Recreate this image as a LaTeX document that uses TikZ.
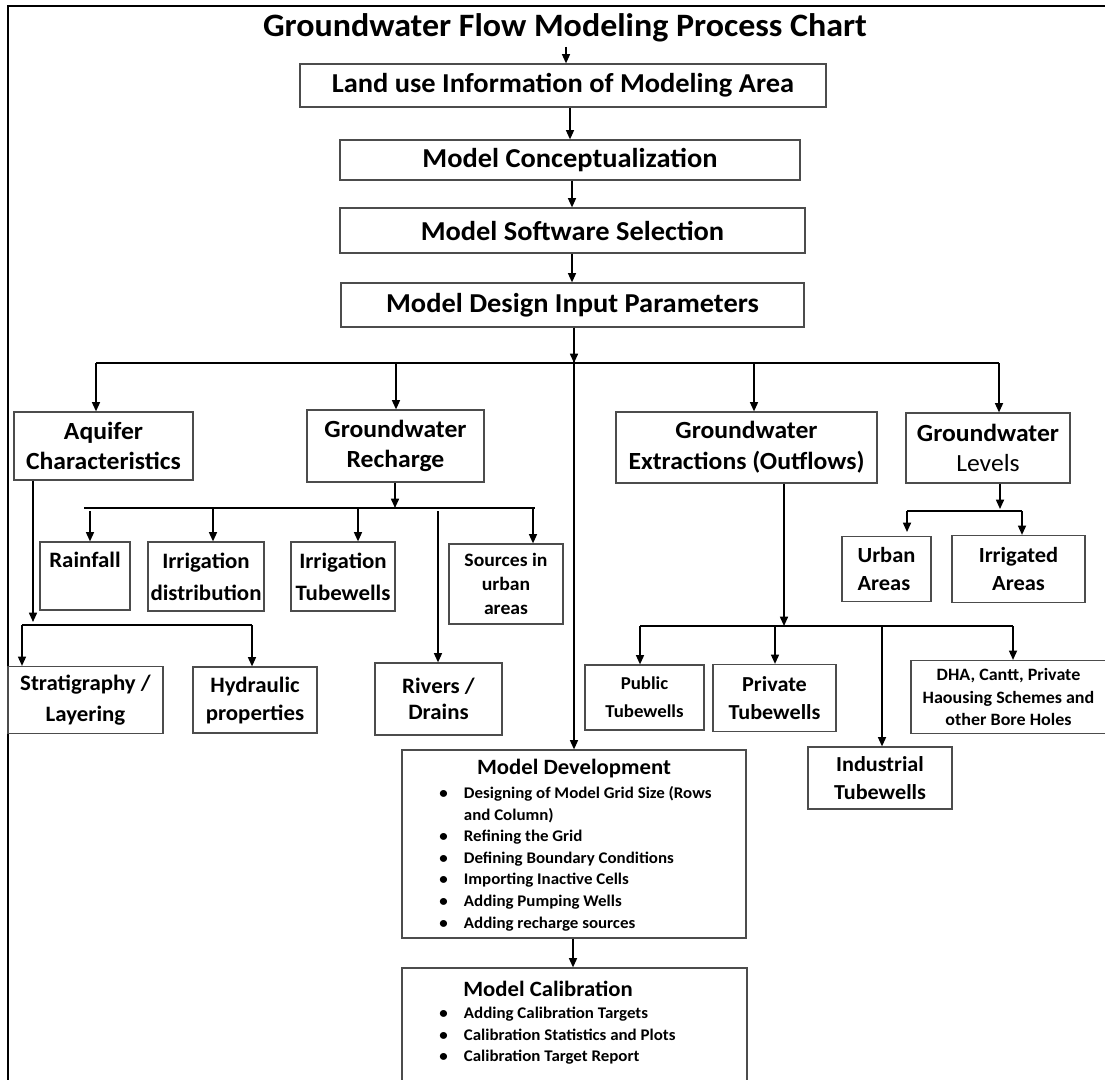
\documentclass[tikz,border=0pt]{standalone}
\usepackage{fontspec}
\setmainfont{Carlito}[FakeStretch=1.04]
\usepackage{tikz}
\usetikzlibrary{arrows.meta, positioning, calc}

\newcommand{\fs}[2]{\fontsize{#1}{#2}\selectfont\bfseries}

\begin{document}
\begin{tikzpicture}[
    x=0.75pt, y=-0.75pt,
    box/.style={draw=black!70, line width=0.9pt, inner sep=0pt, align=center},
    bw/.style 2 args={minimum width=#1*0.75pt, minimum height=#2*0.75pt},
    arr/.style={line width=1.2pt, -{Triangle[length=7pt, width=6pt]}},
    bus/.style={line width=0.9pt},
]
    \useasboundingbox (0,0) rectangle (1105,1079);
    % frame
    \draw[line width=1.6pt] (8,1085) -- (8,6) -- (1110,6);

    % main column
    \node[font=\fs{24.5}{28}] (title) at (565,28) {Groundwater Flow Modeling Process Chart};
    \node[box, bw={526}{43}, font=\fs{20.5}{24}] (land) at (563,85.5) {Land use Information of Modeling Area};
    \node[box, bw={460}{40}, font=\fs{20.5}{24}] (concept) at (570,160) {Model Conceptualization};
    \node[box, bw={465}{45}, font=\fs{20.5}{24}] (soft) at (572.5,230.5) {Model Software Selection};
    \node[box, bw={463}{44}, font=\fs{20.5}{24}] (design) at (572.5,305) {Model Design Input Parameters};

    % second level
    \node[box, bw={179}{68}, font=\fs{18.5}{23}] (aquifer) at (103.5,446) {Aquifer\\Characteristics};
    \node[box, bw={177}{72}, font=\fs{18.5}{23}] (recharge) at (395.5,446) {Groundwater\\Recharge};
    \node[box, bw={261}{71}, font=\fs{18.5}{23}] (extract) at (746.5,447.5) {Groundwater\\Extractions (Outflows)};
    \node[box, bw={164}{70}, font=\fs{18.5}{23}] (levels) at (988,448) {Groundwater\\{\mdseries Levels}};

    % recharge sources
    \node[box, bw={90}{68}, font=\fs{16.5}{24}] (rain) at (85,576) {Rainfall\\\phantom{Rainfall}};
    \node[box, bw={116}{69}, font=\fs{16.5}{24}] (irrdist) at (206,576.5) {Irrigation\\distribution};
    \node[box, bw={104}{69}, font=\fs{16.5}{24}] (irrtube) at (343,576.5) {Irrigation\\Tubewells};
    \node[box, bw={114}{80}, font=\fs{14.2}{18}] (sources) at (506,584) {Sources in\\urban\\areas};
    \node[box, bw={127}{72}, font=\fs{16.5}{20}] (rivers) at (438.5,699) {Rivers /\\Drains};

    % aquifer items
    \node[box, bw={155}{67}, font=\fs{16.5}{23}] (strat) at (85.5,700) {Stratigraphy /\\Layering};
    \node[box, bw={124}{66}, font=\fs{16.5}{21}] (hydr) at (255,700) {Hydraulic\\properties};

    % extraction items
    \node[box, bw={119}{65}, font=\fs{13.6}{21}] (public) at (644.5,697.5) {Public\\Tubewells};
    \node[box, bw={123}{67}, font=\fs{16}{21}] (private) at (774.5,698) {Private\\Tubewells};
    \node[box, bw={195}{73}, font=\fs{13}{17}] (dha) at (1008.5,697) {DHA, Cantt, Private\\Haousing Schemes and\\other Bore Holes};
    \node[box, bw={144}{62}, font=\fs{16}{21}] (indus) at (880,778) {Industrial\\Tubewells};

    % level items
    \node[box, bw={89}{65}, font=\fs{16.2}{21}, align=left] (urban) at (886.5,569) {Urban\\Areas};
    \node[box, bw={133}{67}, font=\fs{16.2}{21}] (irrig) at (1018.5,569) {Irrigated\\Areas};

    % development and calibration
    \node[box, bw={344}{188}] (dev) at (574,844) {};
    \node[font=\fs{16.4}{19}] (devtitle) at (574,769) {Model Development};
    \node[anchor=north west, inner sep=0pt, font=\fs{12.2}{16.2}] (devlist) at (439,783) {%
        \begin{tabular}{@{}p{18.5pt}@{}l@{}}
        \textbullet & Designing of Model Grid Size (Rows\\
                    & and Column)\\
        \textbullet & Refining the Grid\\
        \textbullet & Defining Boundary Conditions\\
        \textbullet & Importing Inactive Cells\\
        \textbullet & Adding Pumping Wells\\
        \textbullet & Adding recharge sources
        \end{tabular}};
    \node[box, bw={345}{117}] (calib) at (574.5,1026.5) {};
    \node[font=\fs{16.4}{19}] (caltitle) at (548,989) {Model Calibration};
    \node[anchor=north west, inner sep=0pt, font=\fs{12.2}{16.2}] (callist) at (439,1003) {%
        \begin{tabular}{@{}p{18.5pt}@{}l@{}}
        \textbullet & Adding Calibration Targets\\
        \textbullet & Calibration Statistics and Plots\\
        \textbullet & Calibration Target Report
        \end{tabular}};

    % main chain
    \draw[arr] (title.south -| 566,0) -- (566,0 |- land.north);
    \draw[arr] (land.south -| 570,0) -- (570,0 |- concept.north);
    \draw[arr] (concept.south -| 572,0) -- (572,0 |- soft.north);
    \draw[arr] (soft.south -| 572,0) -- (572,0 |- design.north);

    % main bus
    \coordinate (busL) at (96,363);
    \coordinate (busR) at (999,363);
    \draw[arr] (design.south -| dev.north) -- (dev.north);
    \draw[arr] (design.south -| dev.north) -- (dev.north |- busL);
    \draw[bus] (busL) -- (busR);
    \draw[arr] (busL) -- (busL |- aquifer.north);
    \draw[arr] (busL -| 396,0) -- (396,0 |- recharge.north);
    \draw[arr] (busL -| 754,0) -- (754,0 |- extract.north);
    \draw[arr] (busR) -- (busR |- levels.north);

    % recharge bus
    \coordinate (rbL) at (84,508);
    \coordinate (rbR) at (535,508);
    \draw[arr] (recharge.south -| 395,0) -- (395,0 |- rbL);
    \draw[bus] (rbL) -- (rbR);
    \draw[arr] (90,511) -- (90,0 |- rain.north);
    \draw[arr] (213,508) -- (213,0 |- irrdist.north);
    \draw[arr] (358,508) -- (358,0 |- irrtube.north);
    \draw[arr] (533,508) -- (533,0 |- sources.north);
    \draw[arr] (438,511) -- (438,0 |- rivers.north);

    % aquifer bus
    \coordinate (abL) at (22,625);
    \coordinate (abR) at (252,625);
    \draw[arr] (aquifer.south -| 33,0) -- (33,622);
    \draw[bus] (abL) -- (abR);
    \draw[arr] (abL) -- (abL |- strat.north);
    \draw[arr] (abR) -- (abR |- hydr.north);

    % extraction bus
    \coordinate (ebL) at (640,626);
    \coordinate (ebR) at (1013,626);
    \draw[arr] (extract.south -| 784,0) -- (784,0 |- ebL);
    \draw[bus] (ebL) -- (ebR);
    \draw[arr] (ebL) -- (ebL |- public.north);
    \draw[arr] (ebL -| 775,0) -- (775,0 |- private.north);
    \draw[arr] (ebL -| 882,0) -- (882,0 |- indus.north);
    \draw[arr] (ebR) -- (ebR |- dha.north);

    % levels bus
    \coordinate (lbL) at (907,511);
    \coordinate (lbR) at (1022,511);
    \draw[arr] (levels.south -| 1000,0) -- (1000,509);
    \draw[bus] (lbL) -- (lbR);
    \draw[arr] (lbL) -- (907,532);
    \draw[arr] (lbR) -- (lbR |- irrig.north);

    \draw[arr] (dev.south -| 573,0) -- (573,0 |- calib.north);
\end{tikzpicture}
\end{document}
